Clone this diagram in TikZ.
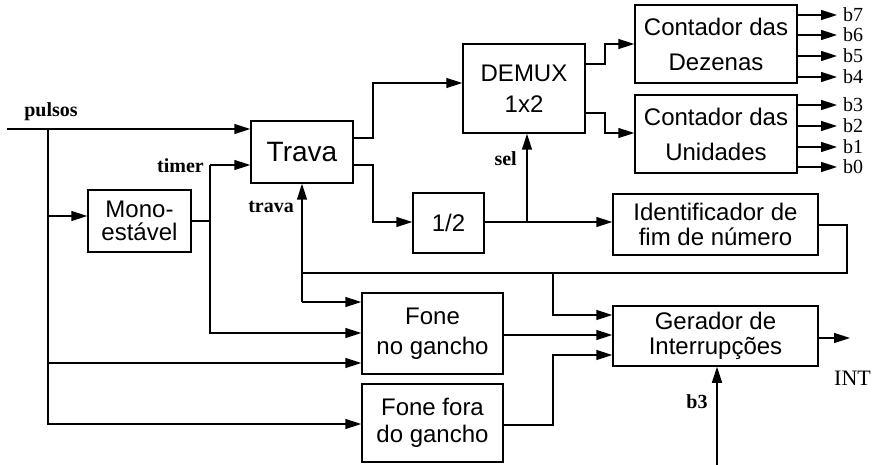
\documentclass[tikz,border=0pt]{standalone}
\usepackage{fontspec}
\setmainfont{Liberation Serif}
\newfontfamily\boxfont{Liberation Sans}
\usetikzlibrary{arrows.meta}
\begin{document}
\begin{tikzpicture}[x=1pt,y=-1pt,
 wire/.style={line width=1.5pt},
 arr/.style={wire,-{Triangle[length=16pt,width=10pt]}},
 blk/.style={draw,line width=1.5pt,inner sep=0pt,align=center,font=\boxfont\fontsize{24}{30}\selectfont},
 lbl/.style={font=\bfseries\fontsize{20}{20}\selectfont,inner sep=0pt},
 blbl/.style={font=\fontsize{20}{20}\selectfont,inner sep=0pt,anchor=west}
]
\useasboundingbox (0,0) rectangle (873,465);
% blocks
\node[blk,minimum width=103pt,minimum height=62pt,font=\boxfont\fontsize{24}{23}\selectfont] (mono) at (139.5,221) {Mono-\\estável};
\node[blk,minimum width=102pt,minimum height=62pt,font=\boxfont\fontsize{28}{30}\selectfont] (trava) at (302,152) {Trava};
\node[blk,minimum width=122pt,minimum height=89pt,font=\boxfont\fontsize{24}{31}\selectfont] (demux) at (524,88.5) {DEMUX\\1x2};
\node[blk,minimum width=71pt,minimum height=60pt] (half) at (448.5,223) {1/2};
\node[blk,minimum width=162pt,minimum height=78pt,font=\boxfont\fontsize{24}{35}\selectfont] (dez) at (716,44) {Contador das\\Dezenas};
\node[blk,minimum width=162pt,minimum height=78pt,font=\boxfont\fontsize{24}{35}\selectfont] (uni) at (716,134) {Contador das\\Unidades};
\node[blk,minimum width=205pt,minimum height=61pt,font=\boxfont\fontsize{24}{25}\selectfont] (ident) at (715.5,224.5) {Identificador de\\fim de número};
\node[blk,minimum width=205pt,minimum height=60pt,font=\boxfont\fontsize{24}{25}\selectfont] (ger) at (715.5,336) {Gerador de\\Interrupções};
\node[blk,minimum width=141pt,minimum height=81pt] (fno) at (432.5,333.5) {Fone\\no gancho};
\node[blk,minimum width=141pt,minimum height=78pt,font=\boxfont\fontsize{24}{27}\selectfont] (ffora) at (432.5,423) {Fone fora\\do gancho};
% labels
\node[lbl] (lpulsos) at (51,112) {pulsos};
\node[lbl,anchor=east] (ltimer) at (204,166) {timer};
\node[lbl,anchor=east] (ltrava) at (294,207) {trava};
\node[lbl,anchor=east] (lsel) at (517,159) {sel};
\node[lbl] (lb3) at (697,402) {b3};
\node[blbl,font=\fontsize{22}{22}\selectfont] (int) at (834,378) {INT};
\foreach \n/\yy in {b7/15,b6/35,b5/56,b4/77}{
  \node[blbl] (\n) at (843,\yy) {\n};
  \draw[arr] (dez.east |- \n) -- (837,\yy);
}
\foreach \n/\yy in {b3/105,b2/126,b1/147,b0/167}{
  \node[blbl] (\n) at (843,\yy) {\n};
  \draw[arr] (uni.east |- \n) -- (837,\yy);
}
% pulsos
\coordinate (pin) at (7,129);
\coordinate (pj) at (48,129);
\coordinate (pm) at (48,216);
\coordinate (pf) at (48,363);
\coordinate (pb) at (48,424);
\draw[arr] (pin) -- (pin -| trava.west);
\draw[arr] (pj) -- (pb) -- (pb -| ffora.west);
\draw[arr] (pm) -- (pm -| mono.west);
\draw[arr] (pf) -- (pf -| fno.west);
% timer
\coordinate (tt) at (210,165);
\coordinate (tb) at (210,333);
\draw[arr] (tt) -- (tt -| trava.west);
\draw[arr] (tt) -- (tb) -- (tb -| fno.west);
\draw[wire] (mono.east) -- (mono.east -| tt);
% trava outputs
\draw[arr] (trava.east |- 0,138) -- (373,138) -- (373,83) -- (demux.west |- 0,83);
\draw[arr] (trava.east |- 0,165) -- (373,165) -- (373,222) -- (half.west |- 0,222);
% 1/2 outputs
\coordinate (sj) at (527,222);
\draw[arr] (half.east |- 0,222) -- (ident.west |- 0,222);
\draw[arr] (sj) -- (sj |- demux.south);
% demux outputs
\draw[arr] (demux.east |- 0,64) -- (605,64) -- (605,44) -- (dez.west |- 0,44);
\draw[arr] (demux.east |- 0,113) -- (605,113) -- (605,133) -- (uni.west |- 0,133);
% identificador feedback
\coordinate (tvb) at (302,302);
\coordinate (gj) at (553,273);
\draw[wire] (ident.east |- 0,225) -- (847,225) -- (847,273) -- (302,273);
\draw[arr] (tvb) -- (tvb |- trava.south);
\draw[arr] (tvb) -- (tvb -| fno.west);
\draw[arr] (gj) -- (553,315) -- (ger.west |- 0,315);
% fone outputs
\draw[arr] (fno.east |- 0,335) -- (ger.west |- 0,335);
\draw[arr] (ffora.east |- 0,425) -- (553,425) -- (553,355) -- (ger.west |- 0,355);
% gerador
\coordinate (io) at (850,338);
\draw[arr] (ger.east |- io) -- (io);
\coordinate (b3s) at (717,465);
\draw[arr] (b3s) -- (b3s |- ger.south);
\end{tikzpicture}
\end{document}
